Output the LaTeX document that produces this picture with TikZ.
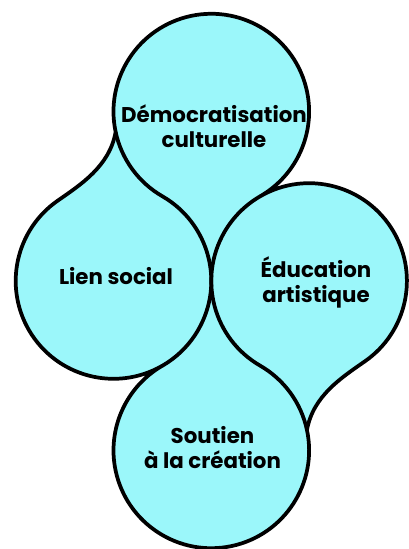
\documentclass[tikz,border=0pt]{standalone}
\usepackage{fontspec}
\setmainfont{Poppins}
\usepackage{tikz}
\usetikzlibrary{calc}
\usetikzlibrary{positioning}
\definecolor{bulle}{RGB}{155,247,250}

\begin{document}
\begin{tikzpicture}[x=0.75pt, y=0.75pt,
		contour/.style={black, line width=2.8pt, line join=round},
		etiquette/.style={font=\bfseries\fontsize{16}{19}\selectfont, align=center, text=black}]
	\useasboundingbox (0,0) rectangle (408,549);
	\def\r{97.8}
	\coordinate (L) at (113.5,268);
	\coordinate (R) at ($(L)+(2*\r,0)$);
	\coordinate (T) at ($(L)+(60:2*\r)$);
	\coordinate (B) at ($(L)+(-60:2*\r)$);
	\coordinate (cg) at ($(T)+(192:\r)$);
	\coordinate (cd) at ($(B)+(12:\r)$);
	% contour exterieur
	\draw[contour, fill=bulle] (cg)
		arc[start angle=192, end angle=-60, radius=\r]
		arc[start angle=120, end angle=-55, radius=\r]
		.. controls +(-145:28) and +(80:35) .. (cd)
		arc[start angle=12, end angle=-240, radius=\r]
		arc[start angle=-60, end angle=-235, radius=\r]
		.. controls +(35:28) and ($(cg)+(-100:35)$) .. cycle;
	% traits interieurs
	\draw[contour] (cg) arc[start angle=192, end angle=240, radius=\r]
		arc[start angle=60, end angle=-60, radius=\r];
	\draw[contour] (cd) arc[start angle=12, end angle=60, radius=\r]
		arc[start angle=240, end angle=120, radius=\r];
	\node[etiquette] (democ) at (214,422.5) {Démocratisation\\culturelle};
	\node[etiquette] (lien) at (116,272.5) {Lien social};
	\node[etiquette] (educ) at (316,266.5) {Éducation\\artistique};
	\node[etiquette] (soutien) at (212.5,101.5) {Soutien\\à la création};
\end{tikzpicture}
\end{document}
